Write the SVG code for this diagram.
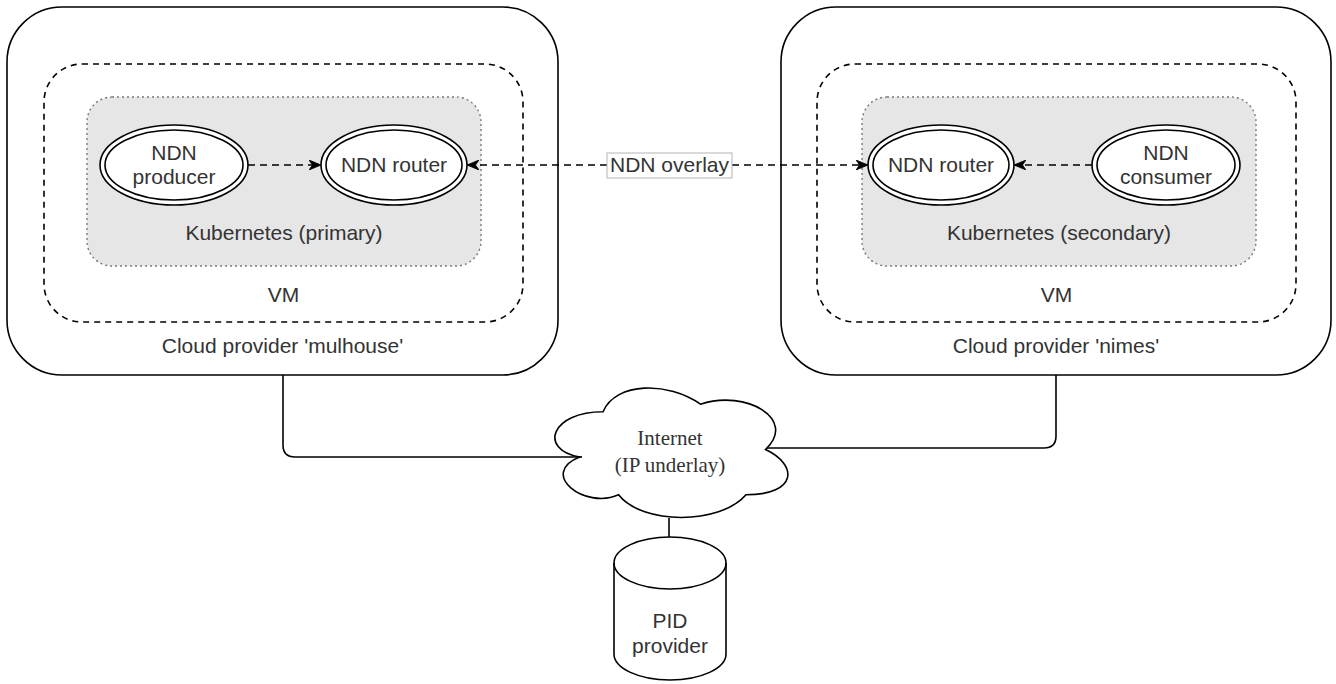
<svg xmlns="http://www.w3.org/2000/svg" width="1336" height="684" viewBox="0 0 1336 684">
  <style>
    .outer { fill: #ffffff; stroke: #000000; stroke-width: 1.6; }
    .vm { fill: none; stroke: #000000; stroke-width: 1.6; stroke-dasharray: 6 5; }
    .kube { fill: #e6e6e6; stroke: #7a7a7a; stroke-width: 1.4; stroke-dasharray: 2 3; }
    .ell { fill: #ffffff; stroke: #000000; stroke-width: 1.6; }
    .lbl { font-family: "Liberation Sans", Arial, sans-serif; font-size: 21px; fill: #333333; text-anchor: middle; }
    .serif { font-family: "Liberation Serif", "Times New Roman", serif; font-size: 21px; fill: #333333; text-anchor: middle; }
    .dash { fill: none; stroke: #000000; stroke-width: 1.6; stroke-dasharray: 7 5; }
    .solid { fill: none; stroke: #000000; stroke-width: 1.6; }
  </style>
  <defs>
    <marker id="arrow" viewBox="0 0 12 10" refX="11" refY="5" markerWidth="12" markerHeight="10" markerUnits="userSpaceOnUse" orient="auto-start-reverse">
      <path d="M0,0 L12,5 L0,10 L3.5,5 Z" fill="#000000" stroke="#000000" stroke-width="0.8"/>
    </marker>
  </defs>

  <g id="cloud-mulhouse">
    <rect class="outer" x="7" y="7" width="551" height="368" rx="55" ry="55"/>
    <text class="lbl" x="282.5" y="353">Cloud provider 'mulhouse'</text>
  </g>
  <g id="vm-left">
    <rect class="vm" x="44" y="64" width="479" height="258" rx="38" ry="38"/>
    <text class="lbl" x="283.5" y="302">VM</text>
  </g>
  <g id="kube-primary">
    <rect class="kube" x="87" y="97" width="394" height="169" rx="25" ry="25"/>
    <text class="lbl" x="284" y="240">Kubernetes (primary)</text>
  </g>
  <g id="ndn-producer">
    <ellipse class="ell" cx="174" cy="165" rx="74" ry="40"/>
    <ellipse class="ell" cx="174" cy="165" rx="69" ry="35"/>
    <text class="lbl" x="174" y="160">NDN</text>
    <text class="lbl" x="174" y="184">producer</text>
  </g>
  <g id="ndn-router-left">
    <ellipse class="ell" cx="394" cy="165" rx="73" ry="40"/>
    <ellipse class="ell" cx="394" cy="165" rx="68" ry="35"/>
    <text class="lbl" x="394" y="172">NDN router</text>
  </g>

  <g id="cloud-nimes">
    <rect class="outer" x="781" y="7" width="550" height="368" rx="55" ry="55"/>
    <text class="lbl" x="1056" y="353">Cloud provider 'nimes'</text>
  </g>
  <g id="vm-right">
    <rect class="vm" x="817" y="64" width="479" height="258" rx="38" ry="38"/>
    <text class="lbl" x="1056.5" y="302">VM</text>
  </g>
  <g id="kube-secondary">
    <rect class="kube" x="862" y="97" width="394" height="169" rx="25" ry="25"/>
    <text class="lbl" x="1059" y="240">Kubernetes (secondary)</text>
  </g>
  <g id="ndn-router-right">
    <ellipse class="ell" cx="941" cy="165" rx="73" ry="40"/>
    <ellipse class="ell" cx="941" cy="165" rx="68" ry="35"/>
    <text class="lbl" x="941" y="172">NDN router</text>
  </g>
  <g id="ndn-consumer">
    <ellipse class="ell" cx="1166" cy="165" rx="74" ry="40"/>
    <ellipse class="ell" cx="1166" cy="165" rx="69" ry="35"/>
    <text class="lbl" x="1166" y="160">NDN</text>
    <text class="lbl" x="1166" y="184">consumer</text>
  </g>

  <g id="internet">
    <path class="ell" d="M 603 411.75 C 551 411.75 538 449.5 579.6 457.05 C 538 473.66 584.8 509.9 618.6 494.8 C 642 525 720 525 746 494.8 C 798 494.8 798 464.6 765.5 449.5 C 798 419.3 746 389.1 700.5 404.2 C 668 381.55 616 381.55 603 411.75 Z"/>
    <text class="serif" x="670" y="445">Internet</text>
    <text class="serif" x="670" y="472">(IP underlay)</text>
  </g>
  <g id="pid-provider">
    <path class="ell" d="M 614 563 A 56 26 0 0 1 726 563 L 726 654 A 56 26 0 0 1 614 654 Z"/>
    <path class="solid" d="M 614 563 A 56 26 0 0 0 726 563"/>
    <text class="lbl" x="670" y="628">PID</text>
    <text class="lbl" x="670" y="653">provider</text>
  </g>

  <g id="connectors">
    <line class="dash" x1="248" y1="165" x2="320" y2="165" marker-end="url(#arrow)"/>
    <line class="dash" x1="1092" y1="165" x2="1015" y2="165" marker-end="url(#arrow)"/>
    <line class="dash" x1="468" y1="165" x2="867" y2="165" marker-start="url(#arrow)" marker-end="url(#arrow)"/>
    <path class="solid" d="M 283 375 L 283 445 Q 283 457 295 457 L 582 457"/>
    <path class="solid" d="M 1056 375 L 1056 436 Q 1056 448 1044 448 L 767 448"/>
    <line class="solid" x1="669" y1="518" x2="669" y2="537"/>
    <g id="overlay-label">
      <rect x="607" y="153" width="125" height="25" fill="#ffffff" stroke="#b3b3b3" stroke-width="1"/>
      <text class="lbl" x="669.5" y="172">NDN overlay</text>
    </g>
  </g>
</svg>
